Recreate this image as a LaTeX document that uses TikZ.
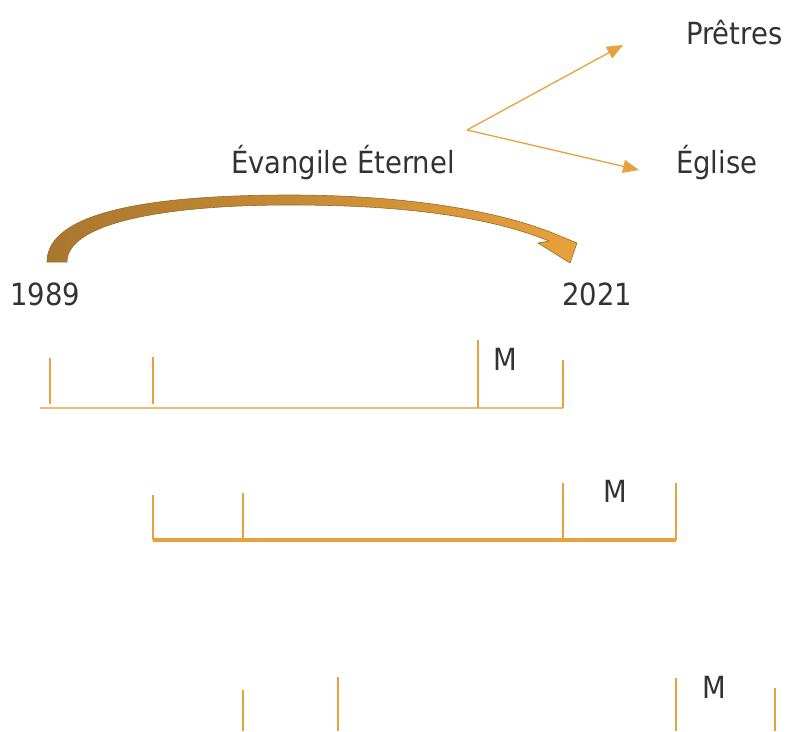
\documentclass[tikz,border=0pt]{standalone}
\usepackage{fontspec}
\setmainfont{DejaVu Sans Condensed}
\usepackage{xcolor}
\usetikzlibrary{arrows.meta,positioning,calc}
\definecolor{orangeline}{HTML}{E8A13C}
\definecolor{lightline}{HTML}{EDBB77}
\definecolor{brownarc}{HTML}{A9772E}
\definecolor{textgray}{HTML}{333333}
\tikzset{label/.style={anchor=base west, inner sep=0pt, text=textgray, font=\fontsize{30.5}{33}\selectfont},
	tick/.style={orangeline, line width=1.3pt},
	fork/.style={orangeline, line width=1.3pt, -{Triangle[length=16pt,width=13pt]}}}

\begin{document}
\begin{tikzpicture}[x=1pt,y=-1pt]
	\useasboundingbox (0,0) rectangle (787,731);
	\node[label] (pretres) at (686,44) {Prêtres};
	\node[label] (eglise) at (676,173) {Église};
	\node[label] (evangile) at (231,173) {Évangile Éternel};
	\node[label] (debut) at (10,305) {1989};
	\node[label] (fin) at (562,305) {2021};
	\coordinate (branche) at (467,130);
	\coordinate (versp) at (623,45);
	\coordinate (verse) at (639,170);
	\draw [fork] (branche) -- (versp);
	\draw [fork] (branche) -- (verse);
	% grande fleche courbe
	\shade [left color=brownarc, right color=orangeline, draw=brownarc!90!black, line width=0.6pt]
		(47,262) .. controls (47,212) and (150,195) .. (290,195)
		.. controls (410,195) and (505,212) .. (560,236)
		-- (577,243) -- (570,263) -- (538,243) -- (549,241)
		.. controls (480,213) and (385,205) .. (290,205)
		.. controls (160,205) and (67,224) .. (67,262) -- cycle;
	% premiere ligne
	\draw [lightline, line width=2.2pt] (40,408) -- (563,408);
	\draw [tick] (50,358) -- (50,404);
	\draw [tick] (153,357) -- (153,404);
	\draw [tick] (478,340) -- (478,408);
	\draw [tick] (563,360) -- (563,408);
	\node[label] (m1) at (493,370) {M};
	% deuxieme ligne
	\draw [orangeline, line width=3.2pt] (153,540) -- (676,540);
	\draw [tick] (153,495) -- (153,540);
	\draw [tick] (243,493) -- (243,540);
	\draw [tick] (563,483) -- (563,540);
	\draw [tick] (676,483) -- (676,540);
	\node[label] (m2) at (603,502) {M};
	% troisieme ligne
	\draw [tick] (243,690) -- (243,731);
	\draw [tick] (338,677) -- (338,731);
	\draw [tick] (676,678) -- (676,731);
	\draw [tick] (775,688) -- (775,731);
	\node[label] (m3) at (702,698) {M};
\end{tikzpicture}
\end{document}
